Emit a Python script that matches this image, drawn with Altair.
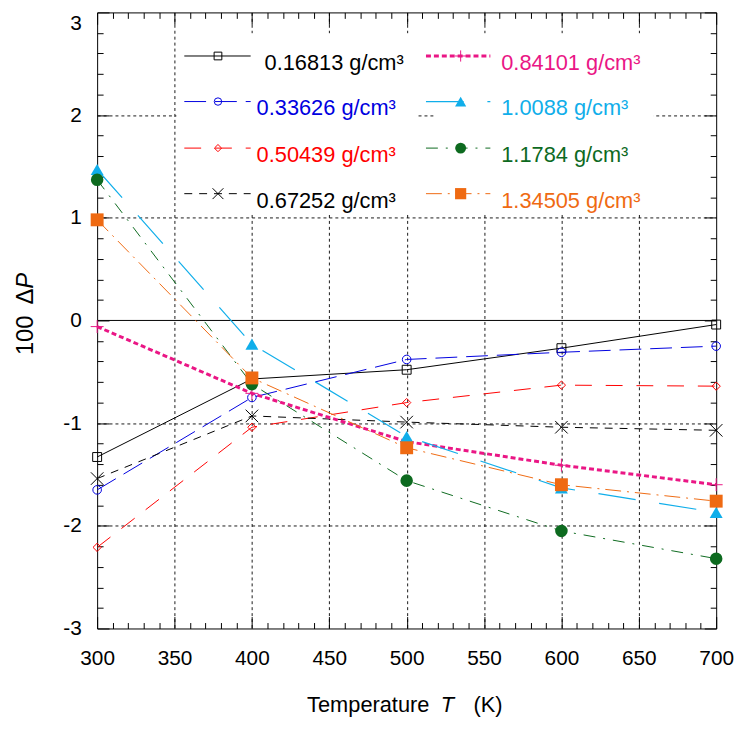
import altair as alt
import pandas as pd

# ---------------- data ----------------
temperature = [300, 400, 500, 600, 700]
densities = ["0.16813", "0.33626", "0.50439", "0.67252",
             "0.84101", "1.0088", "1.1784", "1.34505"]
dp_016813 = [-1.33, -0.57, -0.48, -0.27, -0.04]
dp_033626 = [-1.65, -0.75, -0.38, -0.31, -0.25]
dp_050439 = [-2.21, -1.04, -0.80, -0.63, -0.64]
dp_067252 = [-1.54, -0.93, -0.99, -1.04, -1.07]
dp_084101 = [-0.06, -0.71, -1.18, -1.41, -1.60]
dp_10088 = [1.47, -0.23, -1.13, -1.63, -1.87]
dp_11784 = [1.37, -0.62, -1.56, -2.05, -2.32]
dp_134505 = [0.98, -0.56, -1.24, -1.60, -1.76]
series_values = [dp_016813, dp_033626, dp_050439, dp_067252,
                 dp_084101, dp_10088, dp_11784, dp_134505]

x_major = list(range(300, 701, 50))
x_minor = [t for t in range(300, 701, 10) if t % 50 != 0]
x_grid = [t for t in x_major if t not in (300, 700)]
y_major = [-3, -2, -1, 0, 1, 2, 3]
y_top_label = [3]
y_minor = [v / 10 for v in range(-30, 31, 2) if v % 10 != 0]
y_grid = [-2, -1, 1, 2]
zero_line = [0]

# ---------------- styles ----------------
FONT = "Liberation Sans"
X_PATH = "M-1,-1L1,1M-1,1L1,-1"
PLUS_PATH = "M-1,0L1,0M0,-1L0,1"
colors = ["#000000", "#0000e0", "#ff0000", "#000000",
          "#ea1685", "#10aeea", "#0d6a1f", "#ef6a12"]
dashes = [None, [22, 9], [17, 14], [8, 7], [5, 3], [38, 24], [12, 8, 2, 8], [16, 6, 2, 6]]
widths = [1, 1, 1, 1, 3, 1.2, 1, 1]
shapes = ["square", "circle", "diamond", X_PATH, PLUS_PATH, "triangle-up", "circle", "square"]
filled = [False, False, False, False, False, True, True, True]
sizes = [81, 75, 70, 160, 170, 170, 160, 170]

long_df = pd.DataFrame(
    [{"T": t, "v": v, "density": d}
     for d, vals in zip(densities, series_values)
     for t, v in zip(temperature, vals)]
)

xscale = alt.Scale(domain=[300, 700], nice=False, zero=False)
yscale = alt.Scale(domain=[-3, 3], nice=False, zero=False)


def tick_axis(orient, values, size, labels=False, **kw):
    return alt.Axis(orient=orient, values=values, grid=False, domain=False,
                    ticks=True, tickSize=size, offset=-size, tickColor="black",
                    tickWidth=1, labels=labels, title=None, **kw)


def grid_axis(orient, values):
    return alt.Axis(orient=orient, values=values, grid=True, ticks=False,
                    labels=False, domain=False, title=None, gridColor="black",
                    gridDash=[3, 3], gridWidth=1, gridOpacity=0.9)


label_kw = dict(labelFont=FONT, labelFontSize=21, labelColor="black",
                labelFlush=False, labelOverlap=False)
minus_expr = ("datum.value > 2.5 ? '' : (datum.value < 0 ? '-' + format(-datum.value, 'd')"
              " : format(datum.value, 'd'))")

top_label_axis = alt.Axis(orient="left", values=y_top_label, grid=False, domain=False,
                          ticks=True, tickSize=0, tickOpacity=0, labels=True,
                          labelPadding=16, labelBaseline="top", title=None, **label_kw)

axis_pairs = [
    (tick_axis("bottom", x_major, 12, labels=True, labelPadding=19, **label_kw),
     tick_axis("left", y_major, 12, labels=True, labelPadding=16, labelExpr=minus_expr, **label_kw)),
    (tick_axis("bottom", x_minor, 6), tick_axis("left", y_minor, 6)),
    (tick_axis("top", x_major, 12), tick_axis("right", y_major, 12)),
    (tick_axis("top", x_minor, 6), tick_axis("right", y_minor, 6)),
    (grid_axis("bottom", x_grid), grid_axis("left", y_grid)),
    (None, top_label_axis),
]

layers = []
for xa, ya in axis_pairs:
    layers.append(
        alt.Chart(long_df).mark_point(opacity=0).encode(
            x=alt.X("T:Q", scale=xscale, axis=xa),
            y=alt.Y("v:Q", scale=yscale, axis=ya),
        )
    )

one = pd.DataFrame({"k": [0]})

# opaque legend backgrounds
for bx1, bx2 in [(80, 322), (340, 562)]:
    layers.append(
        alt.Chart(one).mark_rect(color="white", opacity=1).encode(
            x=alt.value(bx1), x2=alt.value(bx2), y=alt.value(21), y2=alt.value(204)
        )
    )

# zero line
layers.append(
    alt.Chart(pd.DataFrame({"z": zero_line})).mark_rule(color="black", strokeWidth=1).encode(
        y=alt.Y("z:Q", scale=yscale, axis=None)
    )
)

# data series
for i, (d, vals) in enumerate(zip(densities, series_values)):
    sdf = pd.DataFrame({"T": temperature, "v": vals})
    line_kw = dict(color=colors[i], strokeWidth=widths[i])
    if dashes[i]:
        line_kw["strokeDash"] = dashes[i]
    enc = dict(x=alt.X("T:Q", scale=xscale, axis=None),
               y=alt.Y("v:Q", scale=yscale, axis=None))
    layers.append(alt.Chart(sdf).mark_line(**line_kw).encode(**enc))
    pt_kw = dict(shape=shapes[i], size=sizes[i], opacity=1, filled=filled[i])
    if filled[i]:
        pt_kw["color"] = colors[i]
    else:
        pt_kw.update(stroke=colors[i], strokeWidth=1, fill=None)
    layers.append(alt.Chart(sdf).mark_point(**pt_kw).encode(**enc))

# legend
row_y = [44, 90, 137, 183]
col_line = [(88, 155), (332, 397)]
col_marker = [122, 367]
col_text = [[169, 161, 161, 161], [408, 408, 408, 408]]
for i, d in enumerate(densities):
    col, row = i // 4, i % 4
    ly = row_y[row]
    rule_kw = dict(color=colors[i], strokeWidth=widths[i])
    if dashes[i]:
        rule_kw["strokeDash"] = dashes[i]
    layers.append(
        alt.Chart(one).mark_rule(**rule_kw).encode(
            x=alt.value(col_line[col][0]), x2=alt.value(col_line[col][1]), y=alt.value(ly)
        )
    )
    pt_kw = dict(shape=shapes[i], size=sizes[i] * 0.75, opacity=1, filled=filled[i])
    if filled[i]:
        pt_kw["color"] = colors[i]
    else:
        pt_kw.update(stroke=colors[i], strokeWidth=1, fill=None)
    layers.append(
        alt.Chart(one).mark_point(**pt_kw).encode(
            x=alt.value(col_marker[col]), y=alt.value(ly)
        )
    )
    layers.append(
        alt.Chart(one).mark_text(
            text=f"{d} g/cm\u00b3", font=FONT, fontSize=22, color=colors[i],
            align="left", baseline="alphabetic"
        ).encode(x=alt.value(col_text[col][row]), y=alt.value(ly + 14))
    )

# axis titles (mixed upright / italic)
title_parts = [
    ("Temperature", 212, 706, "normal"),
    ("T", 347, 706, "italic"),
    ("(K)", 380, 706, "normal"),
]
for txt, tx, ty, style in title_parts:
    layers.append(
        alt.Chart(one).mark_text(
            text=txt, font=FONT, fontSize=22, fontStyle=style, color="black",
            align="left", baseline="alphabetic"
        ).encode(x=alt.value(tx), y=alt.value(ty))
    )
ytitle_parts = [("100", 346, "normal"), ("\u0394", 295, "normal"), ("P", 279, "italic")]
for txt, ty, style in ytitle_parts:
    layers.append(
        alt.Chart(one).mark_text(
            text=txt, font=FONT, fontSize=24, fontStyle=style, color="black",
            align="left", baseline="alphabetic", angle=270
        ).encode(x=alt.value(-65), y=alt.value(ty))
    )

chart = (
    alt.layer(*layers)
    .resolve_axis(x="independent", y="independent")
    .properties(
        width=625, height=622,
        padding={"left": 90, "top": 1, "right": 19, "bottom": 95},
        autosize=alt.AutoSizeParams(type="none"),
        background="white",
    )
    .configure_view(stroke="black", strokeWidth=1)
)

chart.save("out.html", embed_options={"renderer": "svg", "actions": False})
